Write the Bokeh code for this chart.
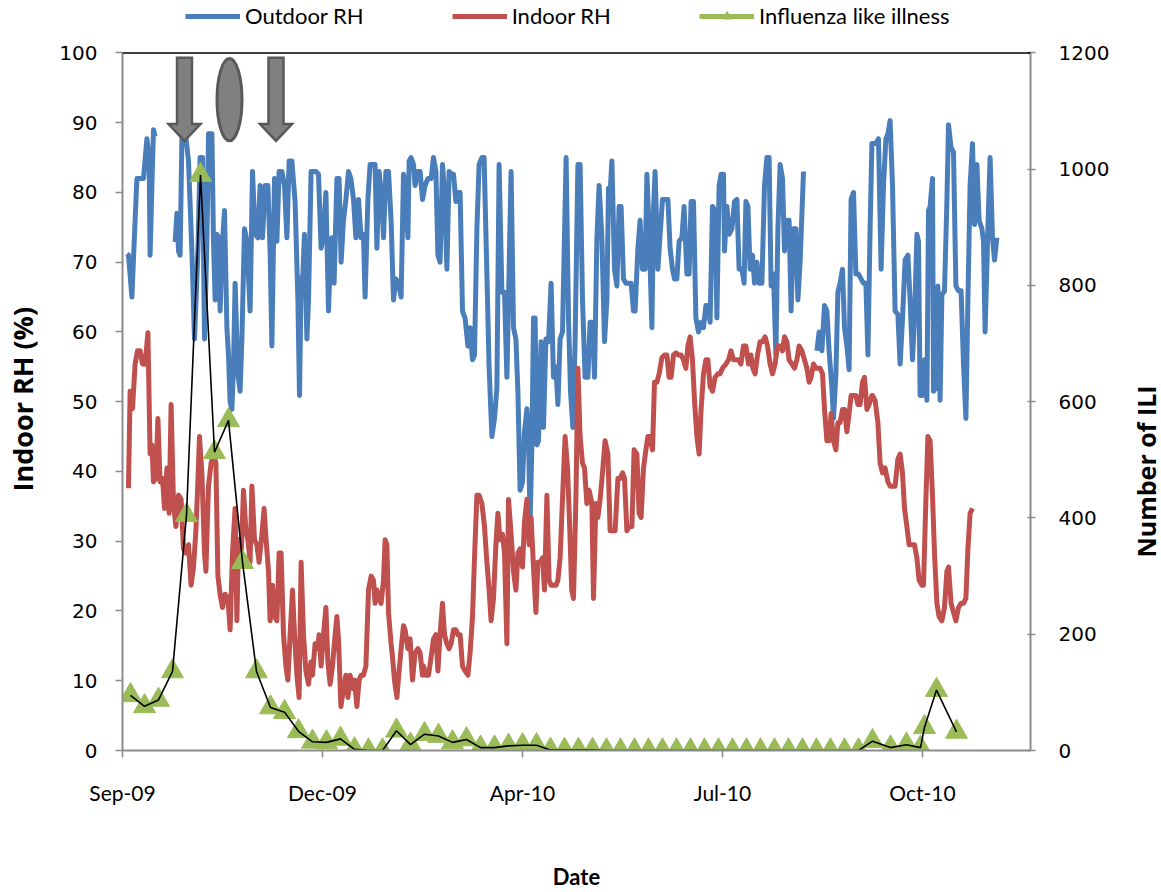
import math
from bokeh.plotting import figure
from bokeh.layouts import row
from bokeh.models import (Range1d, LinearAxis, FixedTicker, SingleIntervalTicker,
                          Legend, LegendItem, Span)
from bokeh.core.properties import value
from bokeh.embed import file_html
from bokeh.resources import INLINE

nan = float("nan")

# x axis: days since the start of the record, labelled with month names
tick_days = [0, 100, 200, 300, 400]
tick_labels = ["Sep-09", "Dec-09", "Apr-10", "Jul-10", "Oct-10"]

# Daily outdoor relative humidity (%), NaN marks missing days
outdoor_day = [
    2.2, 3.0, 4.7, 6.3, 7.2, 8.8, 10.5, 12.2, 13.3, 13.8, 14.7, 15.5, 16.3, 21,
    26.3, 27.2, 28, 28.8, 29.7, 31.3, 33, 34.7, 36, 37.7, 38.8, 40, 41, 42.2, 43, 44.7,
    45.5, 46.3, 47.2, 48, 48.8, 49.7, 51, 52.2, 53, 53.8, 54.7, 55.5, 56.3, 57.7, 58.8,
    59.7, 61, 62.2, 63.8, 65, 66.3, 67.7, 68.8, 70, 71.3, 72.7, 73.8, 74.7,
    76, 77.2, 78.3, 79.7, 81, 82.2, 83.3, 84.7, 86.3, 87.7, 88.5, 89.3, 90.2, 91, 92.2,
    93, 94.3, 95.5, 96.7, 98, 99.3, 100.5, 101.7, 103, 103.8, 104.7, 105.8, 107.2, 108.3,
    109.3, 110.5, 111.7, 113, 114.2, 115.5, 116.7, 118, 119.3, 120.5, 121.3, 122.7, 123.8,
    125, 126.3, 127.2, 128.3, 129.7, 130.5, 131.7, 133, 134.3, 135.5, 136.7, 138, 139.3,
    140.5, 141.3, 142.7, 143.3, 144.3, 145.5, 146.3, 147.7, 148.8, 150,
    151.3, 152.7, 154.3, 155.5, 156.7, 157.7, 158.8, 160, 161, 162.2, 163.3, 164.7, 165.5,
    166.7, 167.7, 168.8, 170, 171.3, 172.7, 173.8, 175, 176, 177.2, 178.3, 179.7, 180.8,
    182.2, 183.3, 184.7, 186, 187.2, 188.3, 189.7, 191, 192.2, 193.3, 194.3, 195.5, 196.7,
    197.7, 198.8, 200, 201, 202.2, 203, 203.8, 204.7, 205.5, 206.3, 207.2, 208, 209.3,
    210.5, 211.7, 213, 214.3, 215.5, 216.7, 217.7, 218.8, 220, 221.8, 223, 224, 225.2,
    226.3, 227.7, 228.8, 230, 231.3, 232.7, 233.8, 235, 236, 237.2, 238.3, 239.7, 241,
    242.2, 243, 243.8, 244.7, 246, 247.2, 248.3, 249.3, 250.5, 251.7, 253, 254.3, 255.5,
    256.3, 257.7, 258.8, 260, 261.3, 262.2, 263.3, 264.7, 265.5, 266.3, 267.7, 268.8, 270,
    271.3, 272.7, 273.8, 275, 276, 277.2, 278.3, 279.7, 280.8, 282.2, 283.3, 284.3, 285.5,
    286.7, 288, 289.3, 290.5, 291.7, 292.7, 293.8, 295, 296.3, 297.2, 298.3, 299.3, 300.5,
    301, 302.2, 303.3, 304.7, 306, 307.2, 308.3, 309.7, 310.8, 311.7, 312.7, 313.8, 315,
    316, 317.2, 318.3, 319.7, 321, 322.2, 323.3, 324.3, 325.5, 326.7, 327.7, 328.8, 330,
    331, 332.2, 333.3, 334.3, 335.5, 336.7, 337.7, 338.8, 340.5, 343,
    347.2, 348.3, 349.7, 351, 352.2, 353.3, 354.7, 355.5, 356.7, 357.7, 358.8, 360, 361,
    362.2, 363.3, 364.3, 365.5, 366.7, 368, 369.3, 370.5, 371.7, 372.7, 373.8, 374.7,
    375.5, 376.7, 378, 379.3, 380.5, 381.7, 382.7, 383.8, 385, 386.3, 387.7, 388.8, 390,
    391.3, 392.7, 393.8, 395, 396, 397.2, 398, 398.8, 400, 401, 402.2, 403, 403.8, 405,
    405.5, 406.7, 407.7, 408.8, 409.7, 411, 412.2, 413, 414.3, 415.5, 416.7, 418, 419.3,
    420.5, 421.7, 422.7, 423.8, 425, 426, 427.2, 428.3, 429.7, 430.5, 431.3, 432.7, 433.8,
    435, 436, 437.2,
]
outdoor_rh = [
    71.2, 71, 65, 76, 82, 82, 82, 87.7, 85, 71, 81, 89, 88, nan,
    72.9, 77, 71.6, 71, 87.7, 89, 84.5, 71.6, 59, 71.6, 85, 85, 59, 73, 88.4, 88.4,
    73, 64.6, 74, 73.5, 63, 71.6, 77.4, 60.6, 56.7, 50, 48.9, 55, 67, 54, 51.5,
    59, 74.8, 73, 63, 83, 74, 73.5, 81, 73.5, 81, 81, 71.6, 58,
    82, 73, 83, 83, 81, 73.5, 84.5, 84.5, 78.7, 64.6, 50.9, 67, 68.3, 74, 59,
    64.6, 83, 83, 83, 82.6, 72, 74, 80, 63, 69.6, 73.5, 67, 82, 82,
    70, 76, 79, 83, 82, 79, 73.5, 79, 73.5, 74, 65, 79, 84,
    84, 84, 72, 83, 79, 73.5, 83, 83, 76, 64.6, 67.6, 67, 65,
    82.6, 81, 73.5, 84.5, 85, 84, 81, 83, 83, 79,
    81, 82, 82, 85, 83, 71, 70, 84, 80, 69, 83, 82.6, 82.6,
    78.7, 80, 80, 63, 62, 58, 60.6, 56, 56.7, 74.8, 84, 85, 85,
    68.3, 55, 45, 47.6, 52, 84, 65.7, 65.7, 53.5, 69, 83, 60.6, 59,
    51.5, 37.3, 38.5, 45.7, 49, 45, 32.8, 43.8, 62, 62, 43.8, 44.4, 58.6,
    46.3, 59, 58.6, 67, 53.5, 55, 49.6, 59, 60, 85, 62, 51.5, 46.3,
    58.6, 84, 84, 64.6, 53.5, 53.5, 61.4, 61.4, 53.5, 73.5, 81, 73.5, 58.6,
    64.6, 80.6, 80, 84.5, 69, 66.6, 78, 78, 67.6, 67, 67, 67, 63,
    63, 72, 76, 69, 69, 82.6, 74.8, 60.6, 77.4, 83, 69, 74, 79,
    79, 79, 72, 69, 67.6, 67.6, 73, 73.5, 78, 68.3, 68.3, 78.7, 78.7,
    62, 60, 61.4, 60.6, 63.8, 63.8, 61.4, 78, 77.4, 62, 81, 82.6, 82.6,
    71.6, 78, 74, 74.8, 78.7, 79, 69, 69, 67, 78.7, 78, 69, 71,
    67, 70, 67, 67, 81, 85, 85, 66.6, 68.3, 56.7, 74.8, 84, 82,
    71.6, 76, 76, 63, 74.8, 74.8, 64.6, 70, 83, nan,
    57.3, 60, 57.3, 63.8, 63, 57.3, 52, 47.6, 54, 65.7, 67, 69, 60.6,
    58, 54.6, 79, 80, 68.3, 68.3, 67.6, 67, 67, 56.7, 74.8, 87,
    87, 87, 87.7, 69, 81, 87.7, 88.4, 90.3, 81, 63, 62.5, 55.4, 61.8,
    70.3, 71, 64.6, 56, 61.8, 74, 73, 50.9, 50.9, 56, 50.2, 77.4, 78, 82,
    51.5, 52, 66.6, 50.2, 65.3, 65.9, 78.7, 89.7, 86.4, 85.8, 66.6, 65.9, 65.9,
    55.4, 47.6, 64.6, 81, 87, 75.4, 84, 76, 74.8, 73, 60, 74.8, 85,
    73.5, 70.3, 73.5,
]

# Daily indoor relative humidity (%)
indoor_day = [
    3, 3.8, 5, 6.3, 7.5, 8.8, 10, 11.3, 12.7, 13.8, 14.7, 15.5, 16.7, 17.7, 18.8, 20, 21,
    22.2, 23.3, 24.3, 25.5, 26.7, 28, 29.3, 30.5, 31.7, 33, 34.3, 35.5, 36.7, 37.7, 38.5,
    39.7, 41, 41.7, 43, 44.3, 45.5, 46.7, 47.7, 48.8, 50, 51.3, 52.7, 53.8, 55, 56.3, 57.2,
    58, 59.3, 60.5, 61.7, 62.7, 63.8, 64.7, 66, 67.2, 68.3, 69.7, 70.8, 71.8, 73, 73.8,
    75, 76, 77.2, 78.3, 79.3, 80.5, 81.7, 82.7, 83.8, 85, 86, 87.2, 88.3, 89.3, 90.5, 91.7,
    93, 94.2, 95, 96.3, 97.5, 98.3, 99.3, 100.5, 101.7, 102.7, 103.8, 105, 106.3, 107.2,
    108, 109.2, 110.5, 111.7, 112.7, 113.8, 115, 116, 117.2, 118.3, 119.3, 120.5, 121.7,
    123, 124.3, 125.5, 126.3, 127.2, 128.3, 129.3, 130.5, 131.3, 132.2, 133, 134.3, 135,
    136, 137.2, 138.3, 139.3, 140.5, 141.3, 142.7, 143.8, 145, 146.3, 147.7, 148.8, 150,
    150.5, 151.7, 153, 154.3, 155.5, 156.7, 157.7, 158.8, 160, 161, 162.2, 163.3, 164.3,
    165.5, 166.7, 167.7, 168.8, 170, 171.3, 172.7, 173.8, 175, 176, 177.2, 178.3, 179.7,
    181, 182.2, 183.3, 184.3, 185.5, 186.7, 187.7, 188.8, 190, 191, 192.2, 193, 194.3,
    195.5, 196.7, 197.7, 198.8, 200, 201, 202.2, 203.3, 204.3, 205.5, 206.7, 207.7, 208.8,
    210, 211, 212.2, 213.3, 214.3, 215.5, 216.7, 217.7, 218.8, 220, 221.3, 222.5, 223.6,
    224.6, 225.5, 226.7, 227.7, 228.8, 230, 231, 232.2, 233.3, 234.7, 235.5, 236.7, 237.7,
    238.8, 240, 241.3, 242.7, 243.8, 245, 246.3, 247.7, 248.8, 250, 251, 252.2, 253.3,
    254.7, 255.8, 257.2, 258.3, 259.3, 260.5, 261.7, 262.7, 263.8, 265, 266, 267.2, 268.3,
    269.7, 271, 272.2, 273.3, 274.3, 275.5, 276.7, 278, 279.3, 280.5, 281.7, 282.7, 283.8,
    285, 286, 287.2, 288.3, 289.3, 290.5, 291.7, 292.7, 293.8, 295, 296.3, 297.7, 298.8,
    300, 301.7, 303, 304.2, 305.5, 306.7, 308, 309.2, 310.5, 311.7, 313, 314.2, 315.2,
    316.3, 317.5, 318.8, 320, 321.3, 322.5, 323.8, 325, 326.3, 327.5, 328.8, 330, 331,
    332.2, 333.3, 334.7, 336, 337.2, 338.3, 339.7, 341, 342.2, 343.3, 344.3, 345.5, 346.7,
    347.7, 348.8, 350, 351, 352.2, 353.3, 354.3, 355.5, 356.7, 357.7, 358.8, 360, 361,
    362.2, 363.3, 364.3, 365.5, 366.7, 367.7, 368.8, 370, 371, 372.2, 373.3, 374.7,
    375, 376.3, 377.7, 378.8, 380, 381.3, 382.7, 383.8, 385, 386.3, 387.7, 388.8, 390,
    391, 392.2, 393.3, 394.7, 396, 397.2, 398.3, 399.7, 400.5, 401.7, 402.7, 403.8, 405,
    406, 407.2, 408.3, 409.7, 411, 412.2, 413, 414.3, 415.5, 416.7, 418, 419.3, 420.5,
    421.7, 422.7, 423.8, 425,
]
indoor_rh = [
    37.6, 51.5, 49, 55.4, 57.3, 57.3, 55.4, 55.4, 59.9, 42.5, 43.8, 38.5, 39, 47.6, 38.5, 39, 34.7,
    40.5, 34, 49.6, 35.4, 32.1, 36.6, 36, 28.9, 28.3, 29.5, 23.7, 26.3, 31.5, 38.5, 45,
    39.8, 28.3, 25.7, 37.9, 41.2, 42.5, 41.2, 25, 22.4, 20.5, 22.4, 21.8, 17.3, 28.3, 34.7, 18.6,
    30.2, 27.6, 37.3, 31.5, 30.2, 27, 37.9, 30.2, 29.5, 27, 31, 34.7, 30.2, 25.7, 18.6,
    23.7, 19.2, 18.6, 28.3, 28.3, 16.6, 12.1, 10.1, 16.6, 23, 16.6, 10.8, 7.6, 27, 16.6, 11.4,
    9.5, 12.7, 10.8, 15.3, 14.6, 16.6, 12.1, 16.6, 20.5, 12.7, 9.5, 12.1, 16.6, 19.2,
    16, 6.3, 8.9, 10.8, 7.6, 10.8, 8.9, 10.1, 6.3, 10.1, 10.8, 10.8, 12.1,
    23, 25, 24.4, 21.1, 23, 21.8, 21.1, 24.4, 30.2, 29.5, 19.8, 15.3, 13.4,
    10.1, 7.6, 11.4, 14.6, 17.9, 17.3, 14.6, 16, 10.1, 14, 14.6, 14, 10.8,
    12.1, 10.8, 10.8, 13.4, 16, 16.6, 11.4, 16.6, 21.1, 16.6, 15.3, 14.6, 15.3,
    17.3, 17.3, 16.6, 16.6, 12.1, 11.4, 10.8, 14, 19.2, 27.6, 36.6, 36.6, 35.4,
    32.1, 27, 23, 18.6, 21.8, 29.5, 34, 30.2, 31, 28.3, 15.3, 36, 31,
    25.7, 23, 28.3, 28.9, 26.3, 32.8, 36, 29.5, 33.4, 26.3, 19.8, 27, 27,
    27.6, 23, 36.6, 24.4, 23.7, 23.7, 23.7, 24.4, 27.6, 36, 45, 40.5, 32.1,
    23, 21.8, 36, 54.8, 45, 41.2, 40.5, 35.4, 37.3, 35.4, 21.8, 35.4, 33.4,
    36, 39.8, 44.4, 42.5, 31.5, 31.5, 31.5, 39, 39, 39.8, 39, 31.5, 32.1,
    32.1, 43.1, 42.5, 34, 33.4, 40.5, 43.1, 45, 45, 43.1, 52.8, 52.8, 54,
    56.3, 56.7, 56.7, 53.5, 53.5, 56.7, 57, 56.7, 56.7, 56, 54.8, 58, 59.3,
    56, 50.2, 45, 42.5, 48.9, 54, 56, 56, 52.2, 51.5, 53.5, 54, 54,
    54.8, 55.4, 56, 57.3, 56, 56, 56, 55.4, 58, 58, 55.4, 56.7, 54.8,
    54, 56.7, 58.6, 58.6, 59.3, 58, 55.4, 54, 55.4, 58, 58, 57.3, 59.3,
    58.6, 56, 55.4, 54.8, 56, 58, 57.3, 56, 54.8, 52.8, 53.5, 55.4, 54.8,
    54.8, 54.8, 54, 48.9, 44.4, 44.4, 48.3, 44.4, 43.1, 47, 47, 48.9, 48.9,
    45.7, 48.3, 50.9, 50.9, 50.9, 49.6, 49.6, 52.8, 53.5, 48.9, 49.6, 50.9,
    50.9, 50.2, 47, 41.2, 39.8, 40.5, 38.5, 37.9, 37.9, 37.9, 41.8, 42.5, 39.8,
    34.7, 32.1, 29.5, 29.5, 29.5, 27.6, 24.4, 23.7, 23.7, 36, 45, 44.4, 36.6,
    28.3, 21.1, 19.2, 18.6, 20.5, 25.7, 26.3, 21.1, 19.8, 18.6, 20.5, 21.1, 21.1,
    21.8, 28.9, 34, 34.7,
]

# Weekly number of influenza-like illness cases
ili_day = [4, 11, 18, 25, 32, 39, 46, 53, 60, 67, 74, 81, 88, 95, 102, 109, 116, 123,
           130, 137, 144, 151, 158, 165, 172, 179, 186, 193, 200, 207, 214, 221, 228, 235,
           242, 249, 256, 263, 270, 277, 284, 291, 298, 305, 312, 319, 326, 333, 340, 347,
           354, 361, 368, 375, 384, 392, 399, 401, 407, 417]
ili_count = [95, 76, 87, 136, 405, 990, 513, 568, 324, 136, 74, 66, 33, 15, 14, 20, 2, 0,
             0, 34, 10, 28, 25, 14, 19, 5, 5, 8, 9, 9, 1, 1, 1, 1,
             0, 0, 0, 0, 0, 0, 0, 0, 0, 0, 0, 0, 0, 0, 0, 0,
             0, 0, 0, 16, 5, 10, 5, 40, 104, 32]

BLUE = "#4a7ebb"
RED = "#c0504d"
GREEN = "#9bbb59"
AXIS_GREY = "#8c8c8c"
TITLE_FONT = "Open Sans"

# Page geometry (pixels)
PAGE_H = 892
LEFT_W, RIGHT_W = 44, 33
MAIN_W = 1161 - LEFT_W - RIGHT_W
FRAME_LEFT, FRAME_RIGHT = 122, 1030   # page x of the two value axes
FRAME_TOP_GAP = 53                    # space kept above the 100 % line for the legend
FRAME_BOTTOM = 758                    # page y of the date axis
BOTTOM_BORDER = PAGE_H - FRAME_BOTTOM
RH_MAX, ILI_MAX, X_MAX = 100, 1200, 454

# The frame reaches the top of the page so the legend row can sit inside it;
# the axes are bounded to the real data range.
stretch = FRAME_BOTTOM / (FRAME_BOTTOM - FRAME_TOP_GAP)

p = figure(width=MAIN_W, height=PAGE_H, output_backend="svg", toolbar_location=None,
           x_range=Range1d(0, X_MAX), y_range=Range1d(0, RH_MAX * stretch),
           min_border_left=FRAME_LEFT - LEFT_W,
           min_border_right=MAIN_W - (FRAME_RIGHT - LEFT_W),
           min_border_top=0, min_border_bottom=BOTTOM_BORDER,
           background_fill_color="white", border_fill_color="white")
p.outline_line_color = None
p.xgrid.visible = False
p.ygrid.visible = False

p.extra_y_ranges = {"ili": Range1d(0, ILI_MAX * stretch),
                    "swatch": Range1d(-3 * ILI_MAX, -2 * ILI_MAX)}

# Bottom date axis
xa = p.xaxis[0]
xa.ticker = FixedTicker(ticks=tick_days)
xa.major_label_overrides = {d: lab for d, lab in zip(tick_days, tick_labels)}
xa.minor_tick_line_color = None
xa.major_tick_in = 0
xa.major_tick_out = 7
xa.axis_line_color = AXIS_GREY
xa.axis_line_width = 2
xa.major_tick_line_color = AXIS_GREY
xa.major_tick_line_width = 1.5
xa.major_label_text_font = "Lato"
xa.major_label_text_font_size = "21px"
xa.major_label_text_color = "black"
xa.major_label_standoff = 22
xa.axis_label = "Date"
xa.axis_label_text_font = "Lato"
xa.axis_label_text_font_style = "bold"
xa.axis_label_text_font_size = "22px"
xa.axis_label_text_color = "black"
xa.axis_label_standoff = 55

# Left humidity axis
ya = p.yaxis[0]
ya.ticker = SingleIntervalTicker(interval=10)
ya.bounds = (0, RH_MAX)
ya.minor_tick_line_color = None
ya.major_tick_in = 0
ya.major_tick_out = 7
ya.axis_line_color = AXIS_GREY
ya.axis_line_width = 2
ya.major_tick_line_color = AXIS_GREY
ya.major_tick_line_width = 1.5
ya.major_label_text_font = "DejaVu Sans"
ya.major_label_text_font_size = "20px"
ya.major_label_text_color = "black"
ya.major_label_standoff = 18

# Right ILI axis
ra = LinearAxis(y_range_name="ili", ticker=SingleIntervalTicker(interval=200),
                bounds=(0, ILI_MAX))
ra.minor_tick_line_color = None
ra.major_tick_in = 3
ra.major_tick_out = 5
ra.axis_line_color = AXIS_GREY
ra.axis_line_width = 2
ra.major_tick_line_color = AXIS_GREY
ra.major_tick_line_width = 1.5
ra.major_label_text_font = "DejaVu Sans"
ra.major_label_text_font_size = "20px"
ra.major_label_text_color = "black"
ra.major_label_standoff = 23
p.add_layout(ra, "right")

# Top edge of the plotting area
p.add_layout(Span(location=RH_MAX, dimension="width", line_color="black", line_width=1.5))

# Humidity series
r_out = p.line(outdoor_day, outdoor_rh, line_color=BLUE, line_width=5, line_join="round")
r_in = p.line(indoor_day, indoor_rh, line_color=RED, line_width=5, line_join="round")

# ILI markers with a thin connecting line on top
p.scatter(ili_day, ili_count, y_range_name="ili", marker="triangle", size=22,
          fill_color=GREEN, line_color=GREEN)
p.line(ili_day, ili_count, y_range_name="ili", line_color="black", line_width=1.6)

# Legend swatch for ILI: green line plus triangle, drawn on a range that is out of view
leg_line = p.line(ili_day, ili_count, y_range_name="swatch", line_color=GREEN, line_width=5)
leg_tri = p.scatter(ili_day, ili_count, y_range_name="swatch", marker="triangle", size=22,
                    fill_color=GREEN, line_color=GREEN)

# Event markers near the top: two down arrows and an ellipse
ARROW_FILL = "#808080"
ARROW_EDGE = "#595959"
arrow_centres = [31, 76.75]
shaft_half, head_half = 3.75, 8
arrow_top, head_base, arrow_tip = 99.3, 89.8, 87.4
for cx in arrow_centres:
    xs = [cx - shaft_half, cx + shaft_half, cx + shaft_half, cx + head_half, cx,
          cx - head_half, cx - shaft_half]
    ys = [arrow_top, arrow_top, head_base, head_base, arrow_tip, head_base, head_base]
    p.patch(xs, ys, fill_color=ARROW_FILL, line_color=ARROW_EDGE, line_width=2.5,
            line_join="miter")
p.ellipse(x=[53.5], y=[93.3], width=[12.5], height=[11.8], fill_color=ARROW_FILL,
          line_color=ARROW_EDGE, line_width=3)

legend = Legend(items=[
    LegendItem(label="Outdoor RH", renderers=[r_out]),
    LegendItem(label="Indoor RH", renderers=[r_in]),
    LegendItem(label="Influenza like illness", renderers=[leg_line, leg_tri]),
], orientation="horizontal", location=(63, FRAME_BOTTOM - 37))
legend.border_line_color = None
legend.background_fill_alpha = 0
legend.padding = 0
legend.margin = 0
legend.spacing = 88
legend.glyph_width = 55
legend.glyph_height = 22
legend.label_height = 22
legend.label_standoff = 5
legend.label_text_font = "Lato"
legend.label_text_font_size = "22px"
legend.label_text_color = "black"
p.add_layout(legend, "center")


def side_title(text, width, centre_x, centre_y, size):
    """A narrow strip holding one rotated axis title, read bottom to top.

    The strip keeps the same bottom border as the main plot, so its y range is
    expressed directly in page pixels measured from the bottom of the page."""
    f = figure(width=width, height=PAGE_H, output_backend="svg", toolbar_location=None,
               x_range=Range1d(0, width), y_range=Range1d(BOTTOM_BORDER, PAGE_H),
               x_axis_type=None, y_axis_type=None,
               min_border_left=0, min_border_right=0, min_border_top=0,
               min_border_bottom=BOTTOM_BORDER,
               background_fill_color="white", border_fill_color="white")
    f.outline_line_color = None
    f.text(x=[centre_x], y=[PAGE_H - centre_y], text=[text], angle=math.pi / 2,
           text_align="center", text_baseline="middle",
           text_font=value(TITLE_FONT), text_font_style="bold",
           text_font_size=size, text_color="black")
    return f


left_strip = side_title("Indoor RH (%)", LEFT_W, 22, 403, "27px")
right_strip = side_title("Number of ILI", RIGHT_W, 17, 476, "25px")

page = row(left_strip, p, right_strip, spacing=0)

with open("out.html", "w") as f:
    f.write(file_html(page, INLINE))
